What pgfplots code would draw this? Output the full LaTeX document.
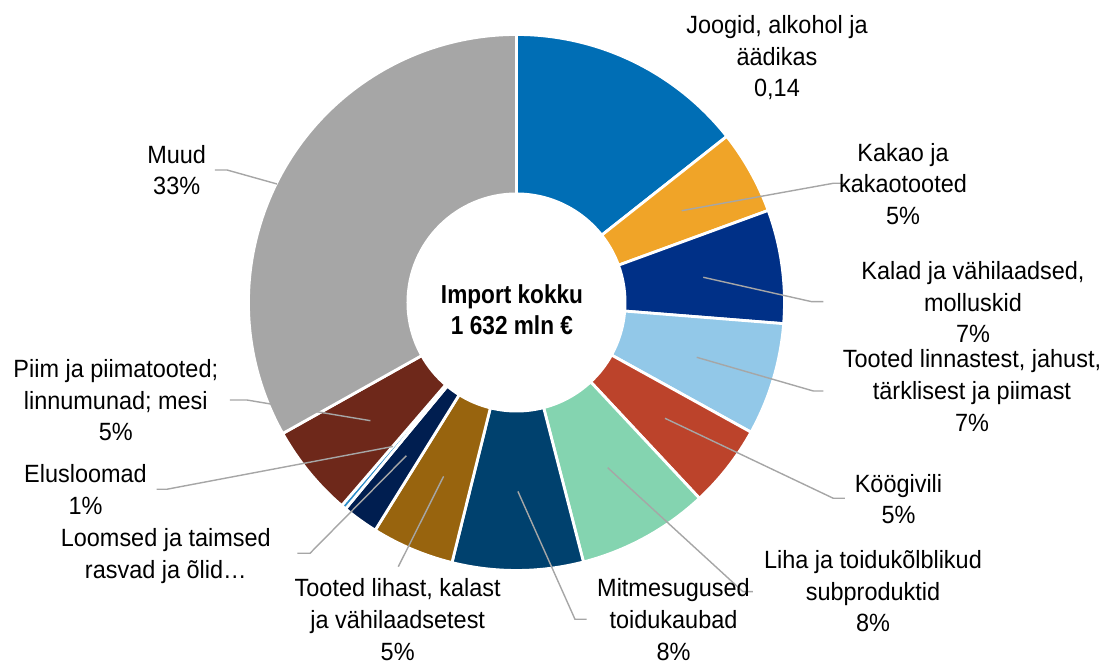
\documentclass[border=0pt]{standalone}
\usepackage{fontspec}
\setmainfont{Liberation Sans}[FakeStretch=0.94]
\newfontfamily\centerfont{Liberation Sans}[FakeStretch=0.87]
\usepackage{pgfplots}
\usepackage{pgfplotstable}
\pgfplotsset{compat=1.18}

\definecolor{cJoogid}{HTML}{006EB5}
\definecolor{cKakao}{HTML}{F0A428}
\definecolor{cKalad}{HTML}{003087}
\definecolor{cLinnas}{HTML}{92C8E8}
\definecolor{cKoogi}{HTML}{BC432B}
\definecolor{cLiha}{HTML}{84D4B0}
\definecolor{cMitme}{HTML}{00416E}
\definecolor{cLihast}{HTML}{98640E}
\definecolor{cLoomsed}{HTML}{001E50}
\definecolor{cElus}{HTML}{2A8BC8}
\definecolor{cPiim}{HTML}{6E281A}
\definecolor{cMuud}{HTML}{A6A6A6}
\definecolor{leader}{HTML}{A6A6A6}

% share (%) of each group, clockwise from 12 o'clock
\pgfplotstableread{
value colour
14.36 cJoogid
5.06 cKakao
6.84 cKalad
6.78 cLinnas
5.00 cKoogi
7.94 cLiha
7.89 cMitme
4.97 cLihast
2.17 cLoomsed
0.30 cElus
5.56 cPiim
33.13 cMuud
}\piedata

% anchor=base of a multi-line node is the baseline of its last line
\tikzset{
  lbl/.style={font=\fontsize{7.1}{9.0}\selectfont, align=center, inner sep=0pt, anchor=base},
  ldr/.style={draw=leader, line width=0.4pt}}

\begin{document}
\begin{tikzpicture}
\useasboundingbox (0,0) rectangle (11.07cm,6.62cm);
\begin{axis}[at={(0,0)}, anchor=south west, scale only axis,
  width=11.07cm, height=6.62cm,
  xmin=0, xmax=1107, ymin=0, ymax=662, y dir=reverse,
  hide axis, clip=false]
\pgfplotstablegetrowsof{\piedata}
\pgfmathtruncatemacro\lastrow{\pgfplotsretval-1}
\def\cumval{0}
\pgfplotsforeachungrouped \i in {0,...,\lastrow}{%
  \pgfplotstablegetelem{\i}{value}\of\piedata
  \let\sliceval\pgfplotsretval
  \pgfplotstablegetelem{\i}{colour}\of\piedata
  \let\slicecol\pgfplotsretval
  \pgfmathsetmacro\angA{90-3.6*\cumval}
  \pgfmathsetmacro\angB{90-3.6*(\cumval+\sliceval)}
  \edef\temp{\noexpand\path[fill=\slicecol, draw=white, line width=0.8pt]
    ([shift={(\angA:2.68cm)}]axis cs:516.5,302.5)
    arc[start angle=\angA, end angle=\angB, radius=2.68cm]
    -- ([shift={(\angB:1.086cm)}]axis cs:516.5,302.5)
    arc[start angle=\angB, end angle=\angA, radius=1.086cm] -- cycle;}
  \temp
  \pgfmathsetmacro\cumval{\cumval+\sliceval}
  \global\let\cumval\cumval
}

% leader lines
\draw[ldr] (axis cs:681.7,210.7) -- (axis cs:833.3,183.3) -- (axis cs:844,183.3);
\draw[ldr] (axis cs:703.3,277.3) -- (axis cs:811.7,301.7) -- (axis cs:823.3,301.7);
\draw[ldr] (axis cs:696.7,357.3) -- (axis cs:813.3,391) -- (axis cs:823.3,391);
\draw[ldr] (axis cs:665,418.3) -- (axis cs:833.3,498.3) -- (axis cs:845,498.3);
\draw[ldr] (axis cs:607.7,467.7) -- (axis cs:743,591.7) -- (axis cs:753,591.7);
\draw[ldr] (axis cs:517.9,491.4) -- (axis cs:575,619.3) -- (axis cs:586.7,619.3);
\draw[ldr] (axis cs:443.6,476.4) -- (axis cs:398.3,566.7);
\draw[ldr] (axis cs:406.4,455.7) -- (axis cs:310,553.3) -- (axis cs:297.3,553.3);
\draw[ldr] (axis cs:393,446.5) -- (axis cs:166.7,489.3) -- (axis cs:156.7,489.3);
\draw[ldr] (axis cs:370.4,420.7) -- (axis cs:246.7,400) -- (axis cs:230,400);
\draw[ldr] (axis cs:277,184) -- (axis cs:227,170) -- (axis cs:215,170);

% labels (position = baseline of last line)
\node[lbl] at (axis cs:777,96.9) {Joogid, alkohol ja\\äädikas\\0,14};
\node[lbl] at (axis cs:903,224.4) {Kakao ja\\kakaotooted\\5\%};
\node[lbl] at (axis cs:973,342.7) {Kalad ja vähilaadsed,\\molluskid\\7\%};
\node[lbl] at (axis cs:972,431.1) {Tooted linnastest, jahust,\\tärklisest ja piimast\\7\%};
\node[lbl] at (axis cs:898.5,524) {Köögivili\\5\%};
\node[lbl] at (axis cs:873,631.7) {Liha ja toidukõlblikud\\subproduktid\\8\%};
\node[lbl] at (axis cs:673.5,660.1) {Mitmesugused\\toidukaubad\\8\%};
\node[lbl] at (axis cs:397.7,660.1) {Tooted lihast, kalast\\ja vähilaadsetest\\5\%};
\node[lbl] at (axis cs:165.8,578.4) {Loomsed ja taimsed\\rasvad ja õlid…};
\node[lbl] at (axis cs:85.5,514.4) {Elusloomad\\1\%};
\node[lbl] at (axis cs:115.8,440.7) {Piim ja piimatooted;\\linnumunad; mesi\\5\%};
\node[lbl] at (axis cs:176.7,195) {Muud\\33\%};

% centre text
\node[font=\centerfont\bfseries\fontsize{7.4}{8.65}\selectfont, align=center, inner sep=0pt, anchor=base]
  at (axis cs:512,334.3) {Import kokku\\1 632 mln €};
\end{axis}
\end{tikzpicture}
\end{document}
